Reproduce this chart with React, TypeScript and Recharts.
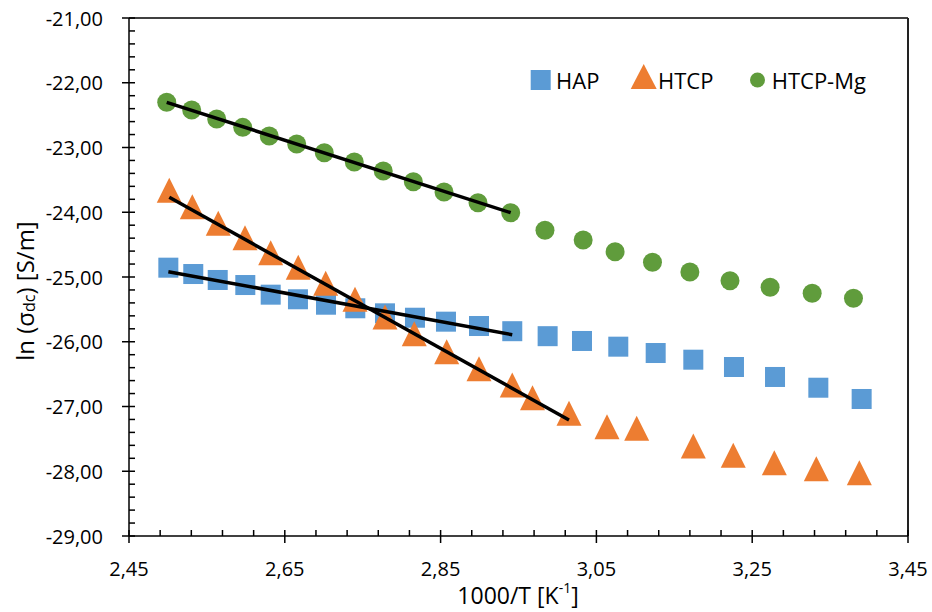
import React from 'react';
import { ScatterChart, Scatter, XAxis, YAxis, ReferenceLine } from 'recharts';

// axis ticks
const xTicks = [2.45, 2.65, 2.85, 3.05, 3.25, 3.45];
const yTicks = [-29, -28, -27, -26, -25, -24, -23, -22, -21];
const seriesNames = ['HAP', 'HTCP', 'HTCP-Mg'];

// HAP (blue squares)
const hapX = [2.5005, 2.5325, 2.5639, 2.5993, 2.6319, 2.6669, 2.7029, 2.7405, 2.7786, 2.8171, 2.8569, 2.8993, 2.942, 2.9874, 3.0315, 3.0781, 3.1261, 3.1744, 3.2266, 3.2793, 3.3349, 3.3905];
const hapY = [-24.856, -24.954, -25.046, -25.124, -25.273, -25.344, -25.428, -25.483, -25.561, -25.629, -25.69, -25.757, -25.837, -25.914, -25.988, -26.076, -26.174, -26.277, -26.39, -26.544, -26.71, -26.884];

// HTCP (orange triangles)
const htcpX = [2.5017, 2.5313, 2.5646, 2.5989, 2.6319, 2.6673, 2.7025, 2.7401, 2.7786, 2.8162, 2.8578, 2.8993, 2.942, 2.968, 3.0148, 3.0636, 3.1017, 3.1744, 3.2257, 3.2784, 3.3323, 3.3875];
const htcpY = [-23.661, -23.914, -24.171, -24.393, -24.625, -24.85, -25.097, -25.344, -25.618, -25.876, -26.154, -26.416, -26.668, -26.864, -27.103, -27.312, -27.337, -27.61, -27.754, -27.869, -27.962, -28.024];

// HTCP-Mg (green circles)
const mgX = [2.4984, 2.5305, 2.5626, 2.596, 2.63, 2.6653, 2.7007, 2.7392, 2.7764, 2.815, 2.8544, 2.898, 2.94, 2.984, 3.033, 3.074, 3.122, 3.17, 3.2215, 3.273, 3.327, 3.38];
const mgY = [-22.302, -22.421, -22.56, -22.689, -22.822, -22.946, -23.081, -23.224, -23.363, -23.528, -23.687, -23.852, -24.007, -24.279, -24.429, -24.61, -24.773, -24.923, -25.057, -25.159, -25.252, -25.329];

// linear fits (end points)
const fitHapX = [2.5005, 2.942];
const fitHapY = [-24.918, -25.891];
const fitHtcpX = [2.5017, 3.0148];
const fitHtcpY = [-23.769, -27.208];
const fitMgX = [2.4984, 2.94];
const fitMgY = [-22.302, -24.007];

const toPts = (xs: number[], ys: number[]) => xs.map((x, i) => ({ x, y: ys[i] }));

const hap = toPts(hapX, hapY);
const htcp = toPts(htcpX, htcpY);
const mg = toPts(mgX, mgY);

const BLUE = '#5B9BD5';
const ORANGE = '#ED7D31';
const GREEN = '#609C3C';
const FONT = '"Open Sans", "Noto Sans", sans-serif';

// minor tick positions
const xMinor: number[] = [];
for (let i = 1; i < 25; i++) if (i % 5 !== 0) xMinor.push(2.45 + i * 0.04);
const yMinor: number[] = [];
for (let i = 1; i < 40; i++) if (i % 5 !== 0) yMinor.push(-29 + i * 0.2);

const fmt = (v: number) => v.toFixed(2).replace('.', ',');

const XTick = (props: any) => {
    const { x, y, payload } = props;
    return (
        <g>
            <line x1={x} x2={x} y1={y - 6} y2={y + 7} stroke="#000" strokeWidth={1.5} />
            <text x={x} y={y + 32} textAnchor="middle" dominantBaseline="central" fontSize={20} fontFamily={FONT} fill="#000">
                {fmt(payload.value)}
            </text>
        </g>
    );
};

const YTick = (props: any) => {
    const { x, y, payload } = props;
    return (
        <g>
            <line x1={x - 7} x2={x + 6} y1={y} y2={y} stroke="#000" strokeWidth={1.5} />
            <text x={x - 26} y={y} textAnchor="end" dominantBaseline="central" fontSize={20} fontFamily={FONT} fill="#000">
                {fmt(payload.value)}
            </text>
        </g>
    );
};

const Square = (p: any) => <rect x={p.cx - 10} y={p.cy - 10} width={20} height={20} fill={BLUE} />;
const Triangle = (p: any) => (
    <polygon points={`${p.cx},${p.cy - 12.5} ${p.cx + 12.5},${p.cy + 12.5} ${p.cx - 12.5},${p.cy + 12.5}`} fill={ORANGE} />
);
const Dot = (p: any) => <circle cx={p.cx} cy={p.cy} r={9.5} fill={GREEN} />;
const NoShape = () => <g />;

export default function App() {
    return (
        <div style={{ position: 'absolute', left: 0, top: 0, width: 932, height: 612, background: '#fff' }}>
            <ScatterChart width={932} height={612} margin={{ top: 18, right: 24, left: 0, bottom: 0 }}>
                <XAxis
                    type="number"
                    dataKey="x"
                    domain={[2.45, 3.45]}
                    ticks={xTicks}
                    tickSize={0}
                    tickMargin={0}
                    tickLine={false}
                    tick={<XTick />}
                    height={76}
                    axisLine={{ stroke: '#000', strokeWidth: 1.5 }}
                    allowDataOverflow
                />
                <YAxis
                    type="number"
                    dataKey="y"
                    domain={[-29, -21]}
                    ticks={yTicks}
                    tickSize={0}
                    tickMargin={0}
                    tickLine={false}
                    tick={<YTick />}
                    width={129}
                    axisLine={{ stroke: '#000', strokeWidth: 1.5 }}
                    allowDataOverflow
                />
                <ReferenceLine y={-21} stroke="#000" strokeWidth={1.5} ifOverflow="visible" />
                <ReferenceLine x={3.45} stroke="#222" strokeWidth={2} ifOverflow="visible" />
                {xMinor.map((v) => (
                    <ReferenceLine key={'xm' + v} segment={[{ x: v, y: -29 }, { x: v, y: -28.907 }]} stroke="#000" strokeWidth={1.5} ifOverflow="visible" />
                ))}
                {yMinor.map((v) => (
                    <ReferenceLine key={'ym' + v} segment={[{ x: 2.45, y: v }, { x: 2.4577, y: v }]} stroke="#000" strokeWidth={1.5} ifOverflow="visible" />
                ))}
                <Scatter name={seriesNames[0]} data={hap} shape={Square} isAnimationActive={false} />
                <Scatter name={seriesNames[1]} data={htcp} shape={Triangle} isAnimationActive={false} />
                <Scatter name={seriesNames[2]} data={mg} shape={Dot} isAnimationActive={false} />
                <Scatter data={toPts(fitHapX, fitHapY)} shape={NoShape} line={{ stroke: '#000', strokeWidth: 3.5 }} isAnimationActive={false} />
                <Scatter data={toPts(fitHtcpX, fitHtcpY)} shape={NoShape} line={{ stroke: '#000', strokeWidth: 3.5 }} isAnimationActive={false} />
                <Scatter data={toPts(fitMgX, fitMgY)} shape={NoShape} line={{ stroke: '#000', strokeWidth: 3.5 }} isAnimationActive={false} />
            </ScatterChart>
            <svg width={932} height={612} style={{ position: 'absolute', left: 0, top: 0, pointerEvents: 'none' }} fontFamily={FONT}>
                <text transform="translate(24,291) rotate(-90)" textAnchor="middle" dominantBaseline="central" fontSize={24} fill="#000">
                    ln (σ<tspan fontSize={16} dy={5}>dc</tspan>
                    <tspan dy={-5}>) [S/m]</tspan>
                </text>
                <text x={518} y={595} textAnchor="middle" dominantBaseline="central" fontSize={23} fill="#000">
                    1000/T [K<tspan fontSize={14} dy={-8}>-1</tspan>
                    <tspan dy={8}>]</tspan>
                </text>
                <rect x={530.7} y={70} width={20} height={20} fill={BLUE} />
                <text x={556} y={80} dominantBaseline="central" fontSize={22} fill="#000">{seriesNames[0]}</text>
                <polygon points="643.7,64 656.7,89 630.7,89" fill={ORANGE} />
                <text x={658} y={80} dominantBaseline="central" fontSize={22} fill="#000">{seriesNames[1]}</text>
                <circle cx={757.5} cy={80} r={7.5} fill={GREEN} />
                <text x={771.7} y={80} dominantBaseline="central" fontSize={22} fill="#000">{seriesNames[2]}</text>
            </svg>
        </div>
    );
}
